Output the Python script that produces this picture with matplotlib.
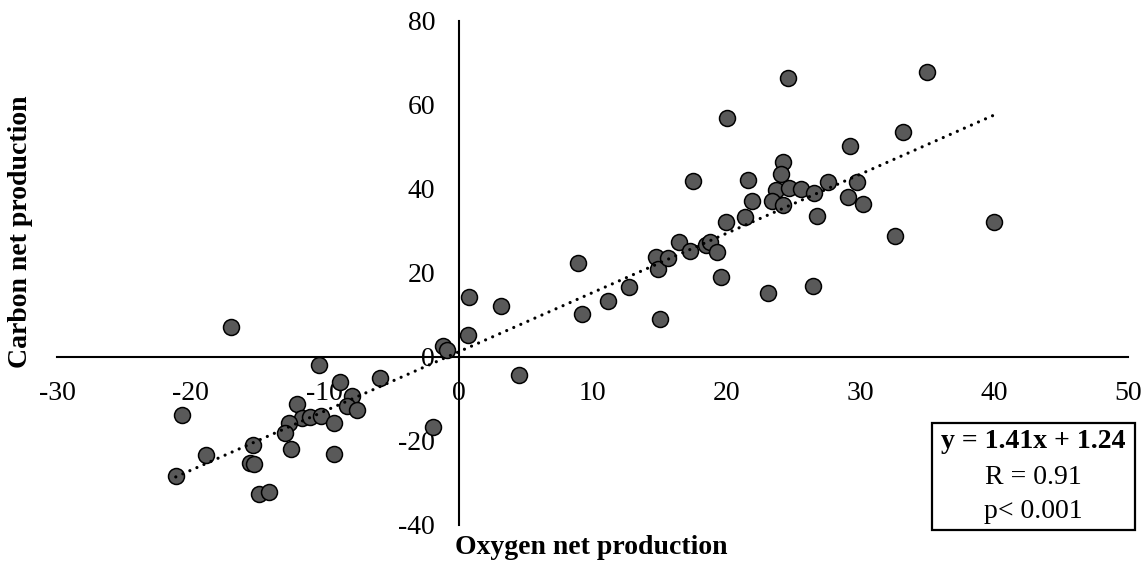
import matplotlib
matplotlib.use("Agg")
import matplotlib.pyplot as plt
from matplotlib.patches import Rectangle
import numpy as np

oxygen = [-17.0, -10.45, -8.9, -5.87, -7.94, -8.36, -7.56, -12.1, -11.7, -11.07,
          -10.3, -9.3, -12.64, -13.0, -20.66, -15.33, -12.54, -9.33, -18.84, -15.58,
          -15.26, -21.13, -14.88, -14.18, -1.94, -1.19, -0.89, 0.78, 0.68,
          4.53, 3.14, 8.94, 9.22, 11.18, 12.75, 14.74, 14.89, 15.04, 15.64,
          16.44, 17.26, 18.45, 18.78, 19.28, 19.6, 19.97, 21.41, 23.08, 26.45, 26.74,
          24.6, 35.0, 20.05, 33.19, 29.2, 24.18, 24.1, 17.53, 21.59, 21.93,
          23.7, 23.43, 24.23, 24.65, 25.55, 26.52, 27.61, 29.06, 29.73, 30.18,
          32.57, 40.0]
carbon = [7.2, -1.9, -5.9, -5.1, -9.2, -11.7, -12.5, -11.3, -14.5, -14.4,
          -14.0, -15.6, -15.8, -18.2, -13.7, -21.0, -22.0, -23.0, -23.3, -25.2,
          -25.4, -28.4, -32.5, -32.1, -16.6, 2.6, 1.7, 14.2, 5.2,
          -4.4, 12.1, 22.4, 10.2, 13.4, 16.7, 23.7, 21.0, 9.0, 23.5,
          27.3, 25.3, 26.7, 27.3, 25.1, 19.0, 32.1, 33.3, 15.3, 16.9, 33.6,
          66.5, 67.8, 56.9, 53.6, 50.2, 46.4, 43.6, 41.9, 42.2, 37.1,
          39.8, 37.2, 36.2, 40.2, 40.0, 39.0, 41.7, 38.2, 41.6, 36.4,
          28.7, 32.1]

slope, intercept = 1.41, 1.24
x_ticks = [-30, -20, -10, 0, 10, 20, 30, 40, 50]
y_ticks = [-40, -20, 0, 20, 40, 60, 80]
eq_lines = ["y = 1.41x + 1.24", "R = 0.91", "p< 0.001"]

plt.rcParams['font.family'] = ['Liberation Serif', 'DejaVu Serif']

W, H = 1147, 564
fig = plt.figure(figsize=(W / 100, H / 100), dpi=100)
ax = fig.add_axes([57 / W, 1 - 525 / H, (1128.3 - 57) / W, (525 - 21) / H])

ax.scatter(oxygen, carbon, s=132, facecolor='#595959', edgecolor='black',
           linewidths=1.1, zorder=3)

xs = np.array([min(oxygen), max(oxygen)])
ax.plot(xs, slope * xs + intercept, color='black', lw=2.3,
        linestyle=(0, (0.01, 2.4)), dash_capstyle='round', zorder=4)

ax.set_xlim(-30, 50)
ax.set_ylim(-40, 80)
ax.set_xticks(x_ticks)
ax.set_yticks(y_ticks)
ax.set_xticklabels([str(v) for v in x_ticks])
ax.set_yticklabels([str(v) for v in y_ticks])

for s in ['top', 'right']:
    ax.spines[s].set_visible(False)
ax.spines['left'].set_position(('data', 0))
ax.spines['bottom'].set_position(('data', 0))
for s in ['left', 'bottom']:
    ax.spines[s].set_linewidth(1.5)
    ax.spines[s].set_color('black')
    ax.spines[s].set_zorder(2)

ax.tick_params(axis='both', length=0, labelsize=20, colors='black')
ax.tick_params(axis='x', pad=17)
ax.tick_params(axis='y', pad=17)

fig.text(21 / W, 1 - 232 / H, "Carbon net production", rotation=90,
         fontsize=20, fontweight='bold', ha='center', va='center')
fig.text(455 / W, 1 - 547 / H, "Oxygen net production",
         fontsize=20, fontweight='bold', ha='left', va='center')

rect = Rectangle((932 / W, 1 - 530 / H), (1135 - 932) / W, (530 - 423) / H,
                 transform=fig.transFigure, facecolor='white',
                 edgecolor='black', linewidth=1.6, zorder=10)
fig.patches.append(rect)
cx = 1033.5 / W
fig.text(cx, 1 - 441 / H, eq_lines[0], fontsize=20, fontweight='bold',
         ha='center', va='center', zorder=11)
fig.text(cx, 1 - 477 / H, eq_lines[1], fontsize=20,
         ha='center', va='center', zorder=11)
fig.text(cx, 1 - 512 / H, eq_lines[2], fontsize=20,
         ha='center', va='center', zorder=11)

fig.savefig("out.png", dpi=100)
